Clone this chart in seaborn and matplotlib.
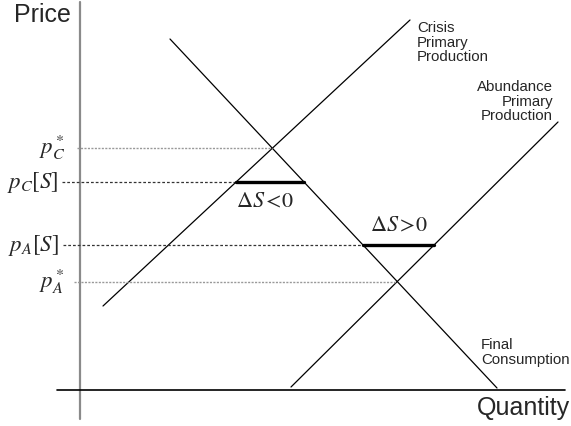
import numpy as np
import pandas as pd
import seaborn as sns
import matplotlib
matplotlib.use("Agg")
import matplotlib.pyplot as plt

sns.set_theme(style="white")
plt.rcParams['font.family'] = ['Liberation Sans', 'DejaVu Sans']
plt.rcParams['mathtext.fontset'] = 'stix'

# curve end points (quantity, price) in arbitrary units
demand_q = [9.0, 41.7]
demand_p = [35.1, 0.2]
crisis_q = [2.3, 33.0]
crisis_p = [8.4, 37.0]
abund_q = [21.1, 47.8]
abund_p = [0.3, 26.8]

# price levels
p_c_star = 24.2
p_c_s = 20.8
p_a_s = 14.5
p_a_star = 10.8

price_labels = [r"$p_C^*$", r"$p_C[S]$", r"$p_A[S]$", r"$p_A^*$"]


def q_at(qs, ps, p):
    # quantity on a straight curve at price p
    return qs[0] + (p - ps[0]) * (qs[1] - qs[0]) / (ps[1] - ps[0])


def crossing(q1, p1, q2, p2):
    m1 = (p1[1] - p1[0]) / (q1[1] - q1[0])
    m2 = (p2[1] - p2[0]) / (q2[1] - q2[0])
    b1 = p1[0] - m1 * q1[0]
    b2 = p2[0] - m2 * q2[0]
    q = (b2 - b1) / (m1 - m2)
    return q, m1 * q + b1


curves = pd.concat([
    pd.DataFrame({"q": demand_q, "p": demand_p, "curve": "demand"}),
    pd.DataFrame({"q": crisis_q, "p": crisis_p, "curve": "crisis"}),
    pd.DataFrame({"q": abund_q, "p": abund_p, "curve": "abundance"}),
])

fig = plt.figure(figsize=(5.71, 4.27), dpi=100)
ax = fig.add_axes([0, 0, 1, 1])

sns.lineplot(data=curves, x="q", y="p", units="curve", estimator=None,
             color="black", lw=0.9, sort=False, ax=ax)

# axes lines
ax.plot([0, 0], [-2.9, 38.8], color="#8a8a8a", lw=1.6, zorder=1)
ax.plot([-2.3, 48.5], [0, 0], color="black", lw=1.2)

# guide lines
qc, pc = crossing(demand_q, demand_p, crisis_q, crisis_p)
qa, pa = crossing(demand_q, demand_p, abund_q, abund_p)
ax.plot([-0.3, qc], [pc, pc], color="#999999", lw=1.0, ls=(0, (1.5, 1)))
ax.plot([-0.6, qa], [pa, pa], color="#999999", lw=1.0, ls=(0, (1.5, 1)))

c_left = q_at(crisis_q, crisis_p, p_c_s)
c_right = q_at(demand_q, demand_p, p_c_s)
a_left = q_at(demand_q, demand_p, p_a_s)
a_right = q_at(abund_q, abund_p, p_a_s)
ax.plot([-1.8, c_left], [p_c_s, p_c_s], color="#333333", lw=0.9, ls=(0, (2.2, 1.6)))
ax.plot([-1.7, a_left], [p_a_s, p_a_s], color="#333333", lw=0.9, ls=(0, (2.2, 1.6)))

# shortage / surplus bars
ax.plot([c_left, c_right], [p_c_s, p_c_s], color="black", lw=2.4)
ax.plot([a_left, a_right], [p_a_s, p_a_s], color="black", lw=2.4)

ax.text((c_left + c_right) / 2 - 0.5, p_c_s - 2.0, r"$\Delta S\,$<0", fontsize=16,
        family="STIXGeneral", ha="center", va="center")
ax.text((a_left + a_right) / 2, p_a_s + 1.9, r"$\Delta S\,$>0", fontsize=16,
        family="STIXGeneral", ha="center", va="center")

# price labels
ax.text(-1.5, p_c_star + 0.2, price_labels[0], fontsize=16.5, ha="right", va="center")
ax.text(-2.1, p_c_s, price_labels[1], fontsize=16.5, ha="right", va="center")
ax.text(-2.1, p_a_s, price_labels[2], fontsize=16.5, ha="right", va="center")
ax.text(-1.5, p_a_star + 0.2, price_labels[3], fontsize=16.5, ha="right", va="center")

ax.text(-6.6, 37.6, "Price", fontsize=18, ha="left", va="center")
ax.text(49.0, -1.7, "Quantity", fontsize=18, ha="right", va="center")

ax.text(33.7, 37.0, "Crisis\nPrimary\nProduction", fontsize=10.8,
        ha="left", va="top", linespacing=1.05)
ax.text(47.3, 31.1, "Abundance\nPrimary\nProduction", fontsize=10.8,
        ha="right", va="top", linespacing=1.05, multialignment="right")
ax.text(40.1, 5.3, "Final\nConsumption", fontsize=10.8,
        ha="left", va="top", linespacing=1.05)

ax.set_xlim(-8.0, 49.1)
ax.set_ylim(-3.6, 39.1)
ax.axis("off")

fig.savefig("out.png", dpi=100)
